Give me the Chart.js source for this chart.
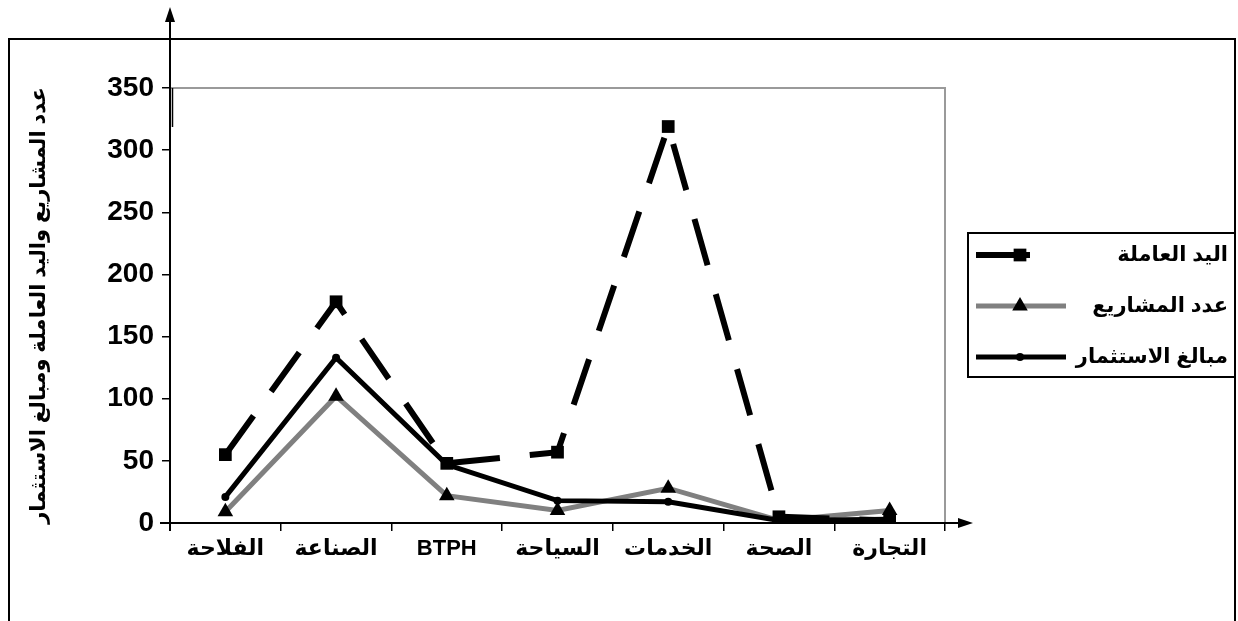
<!DOCTYPE html>
<html>
<head>
<meta charset="utf-8">
<script src="https://cdn.jsdelivr.net/npm/chart.js@4.4.1/dist/chart.umd.min.js"></script>
<style>
    html, body { margin: 0; padding: 0; background: #fff; }
    #wrap { width: 1238px; height: 621px; }
</style>
</head>
<body>
<div id="wrap"><canvas id="grafico" width="1238" height="621"></canvas></div>
<script>
// Datos del gráfico
const sectores = ['الفلاحة', 'الصناعة', 'BTPH', 'السياحة', 'الخدمات', 'الصحة', 'التجارة'];
const yadAmila = [55, 178, 48, 57, 319, 5, 2];
const adadMasharie = [9, 102, 22, 10, 28, 2, 10];
const mabalighIstithmar = [21, 133, 47, 18, 17, 2, 3];
const nombresSeries = ['اليد العاملة', 'عدد المشاريع', 'مبالغ الاستثمار'];
const tituloY = 'عدد المشاريع واليد العاملة ومبالغ الاستثمار';
const yMin = 0, yMax = 350, yPaso = 50;

const fuente = "Arial, 'Liberation Sans', 'DejaVu Sans', sans-serif";

// Dibuja un marcador simple (cuadrado, triángulo o círculo)
function dibujarMarcador(ctx, estilo, r, x, y) {
    ctx.beginPath();
    if (estilo === 'rect') {
        const s = r * Math.SQRT1_2;
        ctx.rect(x - s, y - s, 2 * s, 2 * s);
    } else if (estilo === 'triangle') {
        ctx.moveTo(x, y - r);
        ctx.lineTo(x + r * 0.866, y + r * 0.5);
        ctx.lineTo(x - r * 0.866, y + r * 0.5);
        ctx.closePath();
    } else {
        ctx.arc(x, y, r, 0, Math.PI * 2);
    }
    ctx.fill();
}

// Marco exterior, borde gris, flechas de los ejes y leyenda
const marcoPlugin = {
    id: 'marco',
    beforeDraw(chart) {
        const ctx = chart.ctx;
        const a = chart.chartArea;
        ctx.save();
        ctx.fillStyle = '#fff';
        ctx.fillRect(0, 0, chart.width, chart.height);
        ctx.strokeStyle = '#000';
        ctx.lineWidth = 2;
        ctx.strokeRect(9, 39, 1226, 600);
        ctx.strokeStyle = '#9a9a9a';
        ctx.lineWidth = 2;
        ctx.beginPath();
        ctx.moveTo(a.left, a.top);
        ctx.lineTo(a.right, a.top);
        ctx.lineTo(a.right, a.bottom);
        ctx.stroke();
        ctx.restore();
    },
    afterDraw(chart) {
        const ctx = chart.ctx;
        const a = chart.chartArea;
        ctx.save();
        ctx.strokeStyle = '#000';
        ctx.fillStyle = '#000';
        ctx.lineWidth = 2;
        // eje Y con flecha
        ctx.beginPath();
        ctx.moveTo(a.left, a.bottom + 8);
        ctx.lineTo(a.left, 20);
        ctx.stroke();
        ctx.beginPath();
        ctx.moveTo(a.left, 7);
        ctx.lineTo(a.left - 5, 22);
        ctx.lineTo(a.left + 5, 22);
        ctx.closePath();
        ctx.fill();
        ctx.lineWidth = 1.5;
        ctx.beginPath();
        ctx.moveTo(a.left + 2.5, a.top);
        ctx.lineTo(a.left + 2.5, a.top + 39);
        ctx.stroke();
        // eje X con flecha
        ctx.lineWidth = 2;
        ctx.beginPath();
        ctx.moveTo(a.left - 10, a.bottom);
        ctx.lineTo(a.right + 18, a.bottom);
        ctx.stroke();
        ctx.beginPath();
        ctx.moveTo(a.right + 28, a.bottom);
        ctx.lineTo(a.right + 13, a.bottom - 5);
        ctx.lineTo(a.right + 13, a.bottom + 5);
        ctx.closePath();
        ctx.fill();

        // leyenda
        ctx.lineWidth = 2;
        ctx.strokeRect(968, 233, 267, 144);
        ctx.font = 'bold 21px ' + fuente;
        ctx.textAlign = 'right';
        ctx.textBaseline = 'middle';
        chart.data.datasets.forEach((ds, i) => {
            const y = 255 + i * 51;
            const ancho = ctx.measureText(ds.label).width;
            const fin = ds.borderDash ? 1030 : Math.min(1066, 1228 - ancho - 1);
            ctx.save();
            ctx.strokeStyle = ds.borderColor;
            ctx.lineWidth = ds.borderWidth;
            ctx.beginPath();
            ctx.moveTo(976, y);
            ctx.lineTo(fin, y);
            ctx.stroke();
            ctx.restore();
            ctx.fillStyle = '#000';
            dibujarMarcador(ctx, ds.pointStyle, ds.pointRadius, 1020, y);
            ctx.fillText(ds.label, 1228, y);
        });
        ctx.restore();
    }
};

new Chart(document.getElementById('grafico').getContext('2d'), {
    type: 'line',
    data: {
        labels: sectores,
        datasets: [{
            label: nombresSeries[0],
            data: yadAmila,
            borderColor: '#000',
            borderWidth: 6,
            borderDash: [48, 30],
            pointStyle: 'rect',
            pointRadius: 9,
            pointBackgroundColor: '#000',
            pointBorderColor: '#000',
            pointBorderWidth: 0,
            order: 0
        }, {
            label: nombresSeries[1],
            data: adadMasharie,
            borderColor: '#808080',
            borderWidth: 5,
            pointStyle: 'triangle',
            pointRadius: 9,
            pointBackgroundColor: '#000',
            pointBorderColor: '#000',
            pointBorderWidth: 0,
            order: 2
        }, {
            label: nombresSeries[2],
            data: mabalighIstithmar,
            borderColor: '#000',
            borderWidth: 5,
            pointStyle: 'circle',
            pointRadius: 4,
            pointBackgroundColor: '#000',
            pointBorderColor: '#000',
            pointBorderWidth: 0,
            order: 1
        }]
    },
    options: {
        responsive: false,
        animation: false,
        devicePixelRatio: 1,
        layout: { padding: { top: 88, right: 293, bottom: 0, left: 0 } },
        plugins: {
            legend: { display: false },
            tooltip: { enabled: false }
        },
        elements: { line: { tension: 0 } },
        scales: {
            x: {
                offset: true,
                grid: { offset: true, drawOnChartArea: false, tickLength: 8, color: '#000', lineWidth: 1.5 },
                border: { color: '#000', width: 2 },
                ticks: { color: '#000', font: { family: fuente, size: 22, weight: 'bold' }, padding: 5, maxRotation: 0 },
                afterFit: s => { s.height = 98; }
            },
            y: {
                min: yMin,
                max: yMax,
                grid: { drawOnChartArea: false, tickLength: 8, color: '#000', lineWidth: 1.5 },
                border: { color: '#000', width: 2 },
                ticks: { stepSize: yPaso, color: '#000', font: { family: fuente, size: 28, weight: 'bold' }, padding: 8 },
                title: {
                    display: true,
                    text: tituloY,
                    color: '#000',
                    font: { family: fuente, size: 21, weight: 'bold' },
                    padding: { top: 27, bottom: 0 }
                },
                afterFit: s => { s.width = 170; }
            }
        }
    },
    plugins: [marcoPlugin]
});
</script>
</body>
</html>
